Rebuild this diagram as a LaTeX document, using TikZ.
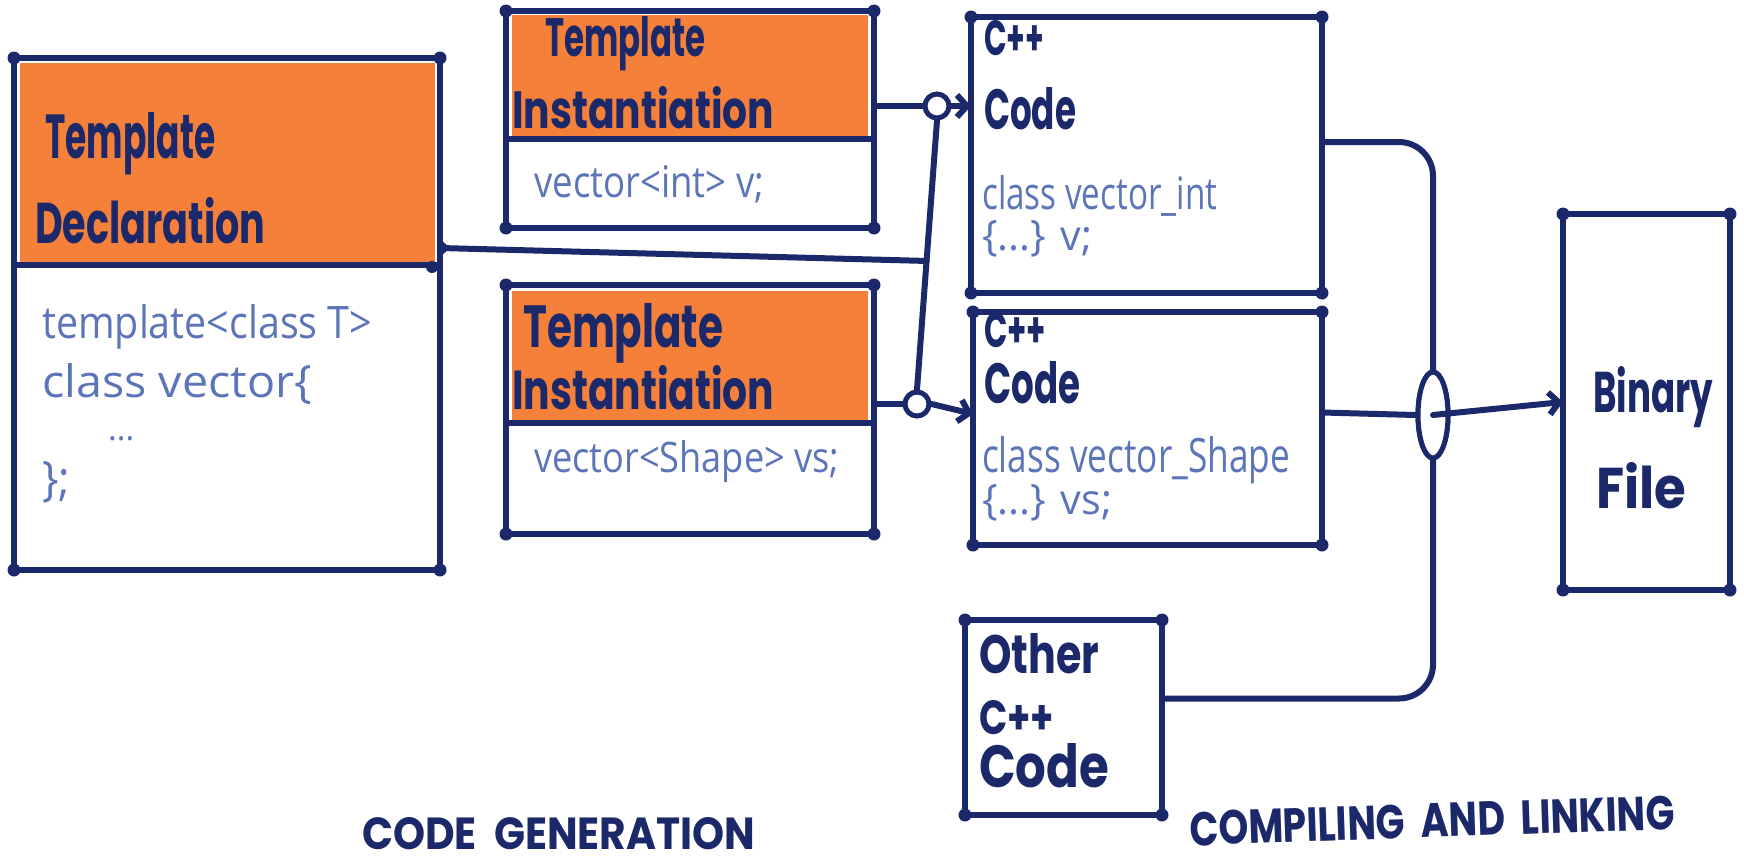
\documentclass[tikz,border=0pt]{standalone}
\usepackage{fontspec}
\usepackage{graphicx}
\setmainfont{Poppins}
\newfontfamily\codefont{Open Sans}
\usetikzlibrary{arrows.meta,shapes.geometric,calc}

\definecolor{ink}{RGB}{27,40,105}
\definecolor{pen}{RGB}{92,116,184}
\definecolor{marker}{RGB}{244,128,58}

% text squeezed to a given width and height, like hand lettering
\newcommand\handw[3]{\resizebox{#1pt}{#2pt}{#3}}

\tikzset{
  box/.style={draw=ink, line width=6pt, line join=round, inner sep=0pt, outer sep=0pt, anchor=north west},
  rule/.style={draw=ink, line width=6pt, line cap=round},
  wire/.style={draw=ink, line width=6pt, line cap=round, rounded corners=16pt},
  curvewire/.style={wire, rounded corners=34pt},
  arr/.style={wire, -{Straight Barb[length=10pt,width=22pt]}},
  knot/.style={circle, draw=ink, fill=white, line width=5pt, minimum size=24pt, inner sep=0pt},
  merge/.style={ellipse, draw=ink, fill=white, line width=5pt, minimum width=30pt, minimum height=86pt, inner sep=0pt},
  title/.style={anchor=base west, inner sep=0pt, text=ink, font=\bfseries},
  code/.style={anchor=base west, inner sep=0pt, text=pen, font=\codefont},
}

\begin{document}
\begin{tikzpicture}[x=1pt,y=-1pt]
\useasboundingbox (0,0) rectangle (1744,862);

% orange marker areas behind the box headers
\fill[marker] (20,63) rectangle (435,262);
\fill[marker] (512,15) rectangle (868,136);
\fill[marker] (512,291) rectangle (868,420);

% boxes
\node[box, minimum width=426pt, minimum height=512pt] (TD) at (14,58) {};
\node[box, minimum width=368pt, minimum height=217pt] (TI1) at (506,11) {};
\node[box, minimum width=368pt, minimum height=249pt] (TI2) at (506,285) {};
\node[box, minimum width=351pt, minimum height=276pt] (C1) at (971,17) {};
\node[box, minimum width=349pt, minimum height=233pt] (C2) at (973,312) {};
\node[box, minimum width=167pt, minimum height=376pt] (Bin) at (1563,214) {};
\node[box, minimum width=197pt, minimum height=195pt] (Oth) at (965,620) {};

% header dividers
\draw[rule] (14,265) -- (440,265);
\draw[rule] (506,139) -- (874,139);
\draw[rule] (506,423) -- (874,423);

% ink blobs at the box corners and divider ends
\foreach \n in {TD,TI1,TI2,C1,C2,Bin,Oth}
  \foreach \a in {north west,north east,south west,south east}
    \fill[ink] (\n.\a) circle (6.5);
\fill[ink] (432,267) circle (6);

% junctions
\node[knot] (c1) at (937,106) {};
\node[knot] (c2) at (917,404) {};
\node[merge] (oval) at (1433,415) {};
\coordinate (j1) at ($(c1)!0.52!(c2)$);

% code generation wiring
\draw[wire] (c1.south) -- (c2.north);
\draw[wire] ([yshift=66pt]TD.east) -- (j1);
\fill[ink] ([yshift=66pt]TD.east) ++(0,-9) -- ++(10,9) -- ++(-10,9) -- cycle;
\draw[wire] (TI1.east |- c1) -- (c1.west);
\draw[wire] (TI2.east |- c2) -- (c2.west);
\draw[arr] (c1.east) -- (C1.west |- c1);
\draw[arr] (c2.east) -- ([yshift=-10pt]C2.west |- c2);

% compiling and linking wiring
\draw[curvewire] ([yshift=13pt]C1.east) -| (oval.north);
\draw[wire] ([yshift=16pt]C2.east) -- (oval.west);
\draw[curvewire] ([yshift=19pt]Oth.east) -| (oval.south);
\node[merge] at (oval) {};
\draw[arr] (oval.center) -- (Bin.west);

% template declaration
\node[title] (tdT) at (45,158) {\handw{170}{46}{Template}};
\node[title] (tdD) at (35,243) {\handw{230}{46}{Declaration}};
\node[code] (td1) at (42,338) {\handw{330}{34}{template<class T>}};
\node[code] (td2) at (42,397) {\handw{270}{34}{class vector\{}};
\node[code] (td3) at (108,440) {\handw{26}{4}{...}};
\node[code] (td4) at (42,495) {\handw{28}{34}{\};}};

% instantiations
\node[title] (i1T) at (545,56) {\handw{160}{40}{Template}};
\node[title] (i1I) at (512,128) {\handw{262}{42}{Instantiation}};
\node[code] (i1c) at (534,197) {\handw{230}{32}{vector<int> v;}};
\node[title] (i2T) at (523,347) {\handw{200}{44}{Template}};
\node[title] (i2I) at (512,409) {\handw{262}{44}{Instantiation}};
\node[code] (i2c) at (534,472) {\handw{305}{32}{vector<Shape> vs;}};

% generated code
\node[title] (c1a) at (984,56) {\handw{60}{35}{C++}};
\node[title] (c1b) at (984,129) {\handw{92}{42}{Code}};
\node[code] (c1c) at (982,209) {\handw{235}{34}{class vector\_int}};
\node[code] (c1d) at (982,250) {\handw{110}{30}{\{...\} v;}};
\node[title] (c2a) at (984,347) {\handw{62}{35}{C++}};
\node[title] (c2b) at (984,403) {\handw{96}{42}{Code}};
\node[code] (c2c) at (982,472) {\handw{308}{36}{class vector\_Shape}};
\node[code] (c2d) at (982,514) {\handw{130}{30}{\{...\} vs;}};

% binary and other code
\node[title] (b1) at (1593,412) {\handw{120}{46}{Binary}};
\node[title] (b2) at (1596,508) {\handw{90}{46}{File}};
\node[title] (o1) at (979,673) {\handw{120}{40}{Other}};
\node[title] (o2) at (979,734) {\handw{75}{34}{C++}};
\node[title] (o3) at (979,787) {\handw{130}{44}{Code}};

% phase captions
\node[title] (capG) at (362,849) {\handw{393}{32}{CODE\ \ GENERATION}};
\node[title, rotate=2] (capL) at (1190,846) {\handw{485}{34}{COMPILING\ \ AND\ \ LINKING}};
\end{tikzpicture}
\end{document}
